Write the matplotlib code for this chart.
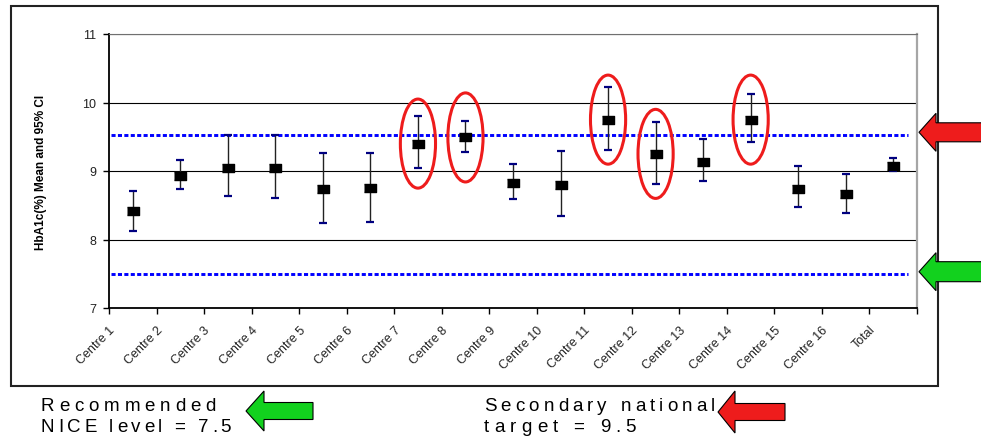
import numpy as np
import matplotlib
matplotlib.use('Agg')
import matplotlib.pyplot as plt
from matplotlib.patches import Ellipse, Polygon, Rectangle
from matplotlib.font_manager import FontProperties, fontManager
from matplotlib.textpath import TextToPath

W, H = 981, 439

centres = ['Centre 1', 'Centre 2', 'Centre 3', 'Centre 4', 'Centre 5', 'Centre 6',
           'Centre 7', 'Centre 8', 'Centre 9', 'Centre 10', 'Centre 11', 'Centre 12',
           'Centre 13', 'Centre 14', 'Centre 15', 'Centre 16', 'Total']
means = [8.41, 8.93, 9.05, 9.05, 8.73, 8.75, 9.40, 9.49, 8.83, 8.79, 9.75, 9.25,
         9.13, 9.75, 8.74, 8.67, 9.08]
ci_low = [8.12, 8.74, 8.64, 8.61, 8.24, 8.26, 9.04, 9.28, 8.59, 8.34, 9.31, 8.81,
          8.86, 9.42, 8.47, 8.39, 9.00]
ci_high = [8.71, 9.16, 9.52, 9.53, 9.26, 9.27, 9.80, 9.73, 9.10, 9.29, 10.22, 9.72,
           9.46, 10.13, 9.07, 8.95, 9.19]
nice_level = 7.5
national_target = 9.53
circled = ['Centre 7', 'Centre 8', 'Centre 11', 'Centre 12', 'Centre 14']
y_ticks = [7, 8, 9, 10, 11]

plt.rcParams['font.family'] = ['Liberation Sans', 'DejaVu Sans']

names = {f.name for f in fontManager.ttflist}
note_family = 'Liberation Sans Narrow' if 'Liberation Sans Narrow' in names else 'Liberation Sans'


def px(x, y):
    # pixel position (from top-left) to figure fraction
    return x / W, 1 - y / H


def left_arrow(fig, tip_x, tip_y, back_x, tail_x, head_half, shaft_half, color):
    pts = [(tip_x, tip_y), (back_x, tip_y - head_half), (back_x, tip_y - shaft_half),
           (tail_x, tip_y - shaft_half), (tail_x, tip_y + shaft_half),
           (back_x, tip_y + shaft_half), (back_x, tip_y + head_half)]
    poly = Polygon([px(a, b) for a, b in pts], closed=True, transform=fig.transFigure,
                   facecolor=color, edgecolor='black', lw=0.8, zorder=10)
    fig.add_artist(poly)


def spaced_text(fig, x, y, s, width, size):
    # letter-spaced text stretched to a given pixel width
    prop = FontProperties(family=note_family, size=size)
    ttp = TextToPath()
    scale = fig.dpi / 72
    natural = ttp.get_text_width_height_descent(s, prop, ismath=False)[0] * scale
    gap = (width - natural) / (len(s) - 1)
    for i, ch in enumerate(s):
        w = ttp.get_text_width_height_descent(s[:i], prop, ismath=False)[0] * scale if i else 0
        fx, fy = px(x + w + i * gap, y)
        fig.text(fx, fy, ch, fontproperties=prop, va='baseline', ha='left', color='black')


fig = plt.figure(figsize=(W / 100, H / 100), dpi=100)
ax = fig.add_axes([109 / W, 1 - 309 / H, 808 / W, 274 / H])

x = np.arange(len(centres)) + 0.5
m = np.array(means)
lo = np.array(ci_low)
hi = np.array(ci_high)

ax.errorbar(x, m, yerr=[m - lo, hi - m], fmt='none', ecolor='#222222', elinewidth=1, capsize=0, zorder=3)
ax.plot(x, lo, ls='none', marker='_', ms=6, mew=1.6, color='#000080', zorder=4)
ax.plot(x, hi, ls='none', marker='_', ms=6, mew=1.6, color='#000080', zorder=4)
rect = [(-1, -0.72), (1, -0.72), (1, 0.72), (-1, 0.72)]
ax.plot(x, m, ls='none', marker=rect, ms=8, color='black', zorder=5)

for val in (national_target, nice_level):
    ax.axhline(val, xmin=0.002, xmax=0.989, color='#0000FF', lw=2.1,
               linestyle=(0, (1.4, 0.8)), zorder=2)

for name in circled:
    i = centres.index(name)
    ax.add_patch(Ellipse((x[i], m[i]), width=0.74, height=1.3, fill=False,
                         edgecolor='#EE1C1C', lw=2.2, zorder=6))

ax.set_xlim(0, len(centres))
ax.set_ylim(7, 11)
ax.set_yticks(y_ticks)
ax.set_yticklabels([str(t) for t in y_ticks], fontsize=9, color='#222222')
ax.set_xticks(np.arange(len(centres) + 1))
ax.set_xticklabels(centres + [''], rotation=45, ha='right', va='top',
                   rotation_mode='anchor', fontsize=9, color='#222222')
ax.tick_params(axis='both', direction='out', length=4, width=1, color='black')
ax.tick_params(axis='x', pad=7)
ax.tick_params(axis='y', pad=5)
ax.yaxis.grid(True, color='black', lw=0.8)
ax.set_axisbelow(True)

ax.spines['left'].set_color('black')
ax.spines['left'].set_linewidth(1.3)
ax.spines['bottom'].set_color('black')
ax.spines['bottom'].set_linewidth(1.3)
ax.spines['top'].set_color('#707070')
ax.spines['top'].set_linewidth(0.8)
ax.spines['right'].set_color('#a6a6a6')
ax.spines['right'].set_linewidth(1.6)

ax.set_ylabel('HbA1c(%) Mean and 95% CI', fontsize=8.5, fontweight='bold')
ax.yaxis.set_label_coords(-0.077, 0.5)

# outer chart frame
fx, fy = px(11, 386.5)
fig.add_artist(Rectangle((fx, fy), (938 - 11) / W, (386.5 - 7) / H, transform=fig.transFigure,
                         fill=False, edgecolor='#222222', lw=1.5))

# arrows marking the reference levels
left_arrow(fig, 919, 133.3, 936, 990, 19, 9.5, '#EE1C1C')
left_arrow(fig, 919, 272.7, 936, 990, 19, 10, '#12D11E')
left_arrow(fig, 246, 412, 264, 313, 20, 8.5, '#12D11E')
left_arrow(fig, 718, 413, 735, 785, 21, 8.5, '#EE1C1C')

spaced_text(fig, 41, 411, 'Recommended', 175, 13.5)
spaced_text(fig, 41, 432, 'NICE level = 7.5', 190, 13.5)
spaced_text(fig, 484, 411, 'Secondary national', 231, 13.5)
spaced_text(fig, 484, 432, 'target = 9.5', 152, 13.5)

fig.savefig('out.png', dpi=100)
plt.close(fig)
